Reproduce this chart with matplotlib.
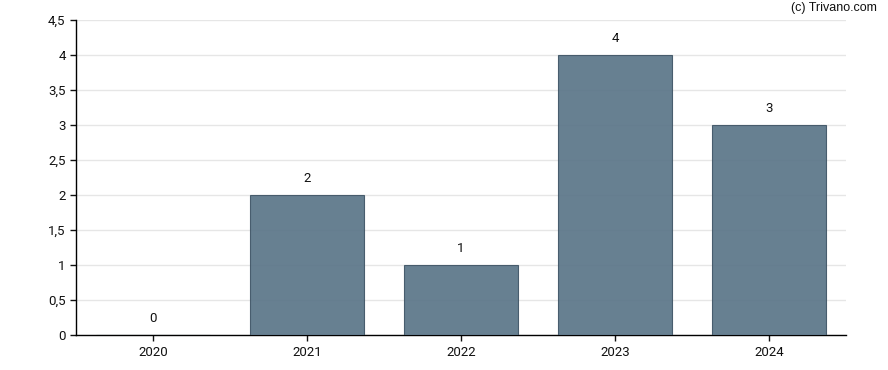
import matplotlib
matplotlib.use("Agg")
import matplotlib.pyplot as plt
from matplotlib.ticker import FuncFormatter

# Daten
jahre = ["2020", "2021", "2022", "2023", "2024"]
werte = [0, 2, 1, 4, 3]

plt.rcParams['font.family'] = ['Roboto', 'DejaVu Sans']

fig = plt.figure(figsize=(8.88, 3.70), dpi=100)
ax = fig.add_axes([76/888, 35/370, 770/888, 315/370])

x = range(len(jahre))
ax.bar(x, werte, width=0.74, color='#5a7588', alpha=0.92,
       edgecolor='#3f5566', linewidth=0.8, zorder=3)

for xi, w in zip(x, werte):
    ax.text(xi, w + 0.14, str(w), ha='center', va='bottom', fontsize=9.5, color='#111111')

ax.set_xlim(-0.5, 4.5)
ax.set_ylim(0, 4.5)
ax.set_xticks(list(x))
ax.set_xticklabels(jahre)
ax.set_yticks([0, 0.5, 1, 1.5, 2, 2.5, 3, 3.5, 4, 4.5])
ax.yaxis.set_major_formatter(FuncFormatter(lambda v, p: ('%g' % v).replace('.', ',')))
ax.tick_params(labelsize=9.5, length=4, width=1, colors='#111111')
ax.tick_params(axis='x', pad=4)

ax.grid(axis='y', color='#e6e6e6', linewidth=1, zorder=1)
for s in ['top', 'right']:
    ax.spines[s].set_visible(False)
for s in ['left', 'bottom']:
    ax.spines[s].set_color('#000000')
    ax.spines[s].set_linewidth(1)

fig.text(877/888, 1 - 8/370, "(c) Trivano.com", ha='right', va='center',
         fontsize=9, family='Liberation Sans', color='#111111')

fig.savefig("out.png", dpi=100)
